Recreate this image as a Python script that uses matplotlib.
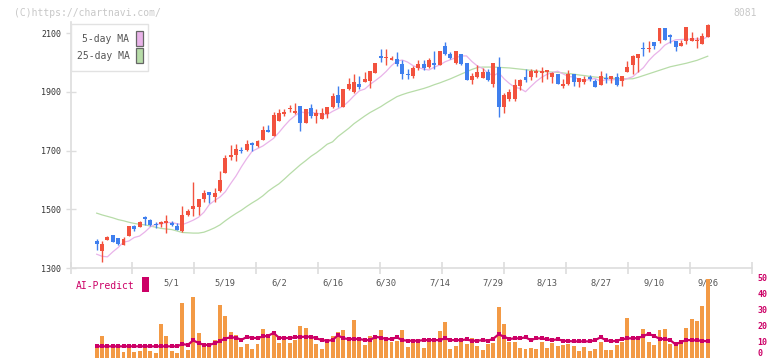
import matplotlib
matplotlib.use("Agg")
import matplotlib.pyplot as plt
from matplotlib.patches import Rectangle
import numpy as np

# ---------------- data ----------------
opens = [1393, 1359, 1396, 1413, 1402, 1380, 1410, 1443, 1441, 1473,
         1464, 1449, 1451, 1454, 1455, 1443, 1426, 1479, 1501, 1509,
         1536, 1559, 1541, 1564, 1625, 1679, 1685, 1703, 1702, 1725,
         1716, 1736, 1771, 1750, 1802, 1826, 1841, 1830, 1852, 1795,
         1845, 1819, 1809, 1825, 1848, 1890, 1850, 1909, 1899, 1926,
         1935, 1939, 1966, 2023, 2016, 2009, 2012, 1995, 1961, 1954,
         1981, 1994, 1984, 1999, 1992, 2057, 2028, 1998, 2030, 1998,
         1941, 1950, 1948, 1968, 1927, 1986, 1850, 1876, 1876, 1921,
         1951, 1952, 1965, 1966, 1968, 1952, 1961, 1921, 1926, 1961,
         1934, 1934, 1952, 1937, 1925, 1949, 1945, 1951, 1939, 1969,
         1992, 2015, 2049, 2046, 2069, 2075, 2117, 2094, 2074, 2058,
         2075, 2075, 2074, 2064, 2088]
highs = [1399, 1393, 1410, 1414, 1403, 1405, 1443, 1448, 1461, 1478,
         1467, 1458, 1461, 1481, 1460, 1455, 1512, 1500, 1593, 1535,
         1566, 1560, 1574, 1631, 1686, 1720, 1723, 1713, 1736, 1731,
         1736, 1784, 1788, 1833, 1842, 1842, 1856, 1861, 1853, 1843,
         1858, 1841, 1845, 1850, 1896, 1920, 1911, 1947, 1960, 1955,
         1967, 1973, 2000, 2047, 2047, 2024, 2037, 2009, 1980, 1990,
         2009, 2009, 2015, 2041, 2041, 2071, 2035, 2041, 2031, 1999,
         1966, 1992, 1981, 1977, 1999, 2020, 1896, 1909, 1944, 1946,
         1978, 1977, 1978, 1986, 1976, 1967, 1962, 1943, 1975, 1962,
         1949, 1954, 1957, 1944, 1972, 1965, 1956, 1964, 1956, 2006,
         2026, 2031, 2069, 2074, 2070, 2118, 2118, 2098, 2075, 2077,
         2121, 2103, 2089, 2100, 2132]
lows = [1362, 1322, 1396, 1387, 1379, 1380, 1409, 1427, 1440, 1446,
        1444, 1436, 1439, 1421, 1444, 1428, 1424, 1477, 1478, 1479,
        1526, 1521, 1526, 1558, 1624, 1668, 1666, 1693, 1700, 1699,
        1712, 1735, 1764, 1749, 1801, 1819, 1833, 1824, 1767, 1794,
        1810, 1795, 1808, 1810, 1847, 1848, 1849, 1907, 1896, 1909,
        1934, 1913, 1965, 2003, 1992, 2008, 1990, 1943, 1944, 1949,
        1975, 1975, 1981, 1978, 1991, 2027, 2012, 1997, 1993, 1940,
        1927, 1949, 1947, 1939, 1916, 1816, 1830, 1870, 1870, 1907,
        1933, 1941, 1952, 1935, 1944, 1930, 1926, 1915, 1925, 1921,
        1918, 1927, 1938, 1917, 1924, 1932, 1932, 1920, 1920, 1968,
        1961, 1969, 2024, 2037, 2045, 2068, 2076, 2066, 2041, 2057,
        2064, 2074, 2051, 2063, 2087]
closes = [1382, 1382, 1406, 1390, 1381, 1399, 1442, 1434, 1457, 1468,
          1446, 1445, 1458, 1460, 1448, 1430, 1481, 1495, 1512, 1534,
          1557, 1550, 1557, 1600, 1675, 1686, 1706, 1699, 1723, 1719,
          1734, 1771, 1765, 1822, 1828, 1833, 1847, 1835, 1795, 1842,
          1819, 1830, 1830, 1849, 1886, 1864, 1910, 1926, 1933, 1918,
          1944, 1972, 1999, 2017, 2019, 2016, 1996, 1960, 1958, 1983,
          1994, 1981, 2009, 1992, 2040, 2028, 2015, 2040, 1994, 1941,
          1955, 1968, 1968, 1941, 1998, 1850, 1890, 1900, 1924, 1941,
          1942, 1973, 1971, 1971, 1975, 1966, 1927, 1927, 1961, 1934,
          1948, 1944, 1943, 1918, 1955, 1943, 1955, 1924, 1955, 1984,
          2023, 2030, 2045, 2051, 2058, 2117, 2077, 2088, 2054, 2068,
          2120, 2084, 2077, 2091, 2128]

ma5 = [1347, 1340, 1338, 1355, 1370, 1388, 1392, 1404, 1409, 1423,
       1440, 1449, 1450, 1455, 1455, 1451, 1448, 1455, 1463, 1473,
       1490, 1516, 1530, 1542, 1560, 1588, 1614, 1645, 1673, 1698,
       1707, 1716, 1729, 1742, 1762, 1784, 1804, 1819, 1833, 1828,
       1830, 1828, 1824, 1823, 1834, 1843, 1852, 1868, 1887, 1904,
       1910, 1926, 1939, 1953, 1970, 1990, 2005, 2009, 2002, 1990,
       1983, 1978, 1975, 1985, 1992, 2003, 2010, 2017, 2023, 2023,
       2004, 1989, 1980, 1965, 1955, 1966, 1945, 1929, 1916, 1912,
       1901, 1919, 1936, 1950, 1960, 1966, 1971, 1962, 1953, 1951,
       1943, 1939, 1943, 1946, 1937, 1942, 1941, 1943, 1939, 1946,
       1952, 1968, 1983, 2007, 2026, 2041, 2060, 2070, 2078, 2079,
       2080, 2080, 2081, 2079, 2089]

ma25 = [1487, 1481, 1476, 1471, 1465, 1461, 1456, 1452, 1449, 1447,
        1443, 1439, 1435, 1433, 1431, 1426, 1421, 1420, 1419, 1419,
        1422, 1429, 1437, 1447, 1461, 1474, 1486, 1497, 1510, 1522,
        1533, 1546, 1562, 1575, 1587, 1603, 1620, 1636, 1652, 1666,
        1681, 1693, 1707, 1722, 1730, 1748, 1762, 1776, 1792, 1805,
        1818, 1830, 1840, 1850, 1862, 1873, 1884, 1891, 1897, 1902,
        1907, 1912, 1918, 1925, 1931, 1938, 1945, 1953, 1961, 1969,
        1977, 1983, 1985, 1985, 1985, 1984, 1983, 1982, 1980, 1978,
        1976, 1974, 1972, 1970, 1969, 1968, 1967, 1965, 1963, 1961,
        1958, 1956, 1953, 1951, 1949, 1948, 1947, 1946, 1945, 1945,
        1945, 1950, 1956, 1962, 1968, 1974, 1980, 1986, 1990, 1994,
        1998, 2003, 2008, 2015, 2022]

volume = [8.5, 13.5, 6.9, 6.9, 6.9, 3.5, 6.9, 3.5, 4.2, 6.9,
          4.2, 2.9, 21.0, 13.5, 4.2, 2.9, 34.2, 5.0, 37.9, 15.4,
          6.9, 8.5, 11.0, 32.9, 26.0, 16.0, 14.2, 6.9, 8.5, 5.6,
          8.5, 17.9, 13.1, 14.8, 9.2, 11.0, 9.2, 11.0, 19.8, 18.5,
          13.5, 8.5, 5.6, 11.0, 13.5, 16.0, 17.3, 11.0, 23.5, 11.0,
          7.9, 13.5, 13.5, 17.3, 11.0, 9.8, 10.4, 17.3, 6.9, 9.8,
          9.8, 6.0, 11.0, 12.3, 16.7, 22.3, 5.6, 7.3, 11.0, 8.5,
          12.3, 7.3, 4.8, 8.5, 9.2, 31.7, 21.0, 9.8, 9.8, 6.0,
          5.4, 6.0, 5.4, 9.8, 6.0, 9.2, 7.3, 7.9, 8.5, 7.3,
          4.2, 6.7, 4.2, 5.4, 9.8, 4.8, 4.8, 7.9, 9.8, 24.8,
          11.7, 13.5, 17.9, 9.8, 7.9, 17.3, 17.9, 8.5, 9.8, 8.5,
          18.5, 24.2, 22.9, 32.3, 49.0]

ai_predict = [7.1, 7.1, 7.1, 7.1, 7.1, 7.1, 7.1, 7.1, 7.1, 7.1,
              7.1, 7.1, 7.1, 7.1, 7.1, 7.1, 8.5, 8.0, 10.8, 9.2,
              8.0, 8.0, 9.0, 10.5, 12.0, 12.7, 12.5, 11.2, 12.9, 12.5,
              12.2, 13.3, 13.7, 15.5, 12.5, 12.3, 12.3, 12.7, 13.0, 13.1,
              13.1, 12.1, 11.0, 10.6, 11.0, 14.0, 12.1, 11.7, 11.7, 11.7,
              11.0, 11.0, 13.1, 12.5, 11.7, 11.7, 12.7, 11.0, 10.6, 10.6,
              10.6, 11.0, 11.0, 11.0, 11.0, 12.1, 11.0, 11.0, 11.0, 11.4,
              10.6, 10.6, 11.0, 10.6, 11.9, 14.6, 13.1, 11.7, 12.1, 12.1,
              12.7, 11.0, 12.1, 12.1, 11.5, 11.0, 11.5, 10.6, 10.4, 10.2,
              10.2, 10.2, 10.2, 11.0, 12.7, 11.0, 10.2, 10.6, 11.5, 12.1,
              12.1, 12.3, 13.5, 15.0, 13.5, 11.9, 11.5, 11.0, 8.3, 9.8,
              11.0, 11.0, 10.8, 10.6, 10.2]

date_labels = ['5/1', '5/19', '6/2', '6/16', '6/30', '7/14', '7/29',
               '8/13', '8/27', '9/10', '9/26']
date_label_idx = [14, 24, 34, 44, 54, 64, 74, 84, 94, 104, 114]
price_ticks = [1300, 1500, 1700, 1900, 2100]
volume_ticks = [0, 10, 20, 30, 40, 50]

# ---------------- styling ----------------
W, H = 772, 361
MONO = 'DejaVu Sans Mono'
RED = '#f2523e'
BLUE = '#3f7fee'
ORANGE = '#f39a45'
MAGENTA = '#cc0066'
PINK = '#e9b3e9'
GREEN = '#b7dca8'
GRID = '#dddddd'


def fr(x0, y0, x1, y1):
    return [x0 / W, 1 - y1 / H, (x1 - x0) / W, (y1 - y0) / H]


fig = plt.figure(figsize=(W / 100, H / 100), dpi=100)
fig.patch.set_facecolor('white')

n = len(closes)
idx = np.arange(n)
o = np.array(opens, float)
c = np.array(closes, float)
hi = np.array(highs, float)
lo = np.array(lows, float)

# x mapping: candle i at pixel 96.7 + 5.36*i ; axes spans 70.5 .. 752
px0, step = 96.7, 5.36
xl = ((70.5 - px0) / step, (752 - px0) / step)

ax = fig.add_axes(fr(70.5, 21.6, 752, 268))
ax.set_xlim(*xl)
ax.set_ylim(1300, 2140)

ax.plot(idx, ma25, color=GREEN, lw=0.9, zorder=2)
ax.plot(idx, ma5, color=PINK, lw=0.9, zorder=2)

up = c >= o
colors = np.where(up, RED, BLUE)
ax.vlines(idx, lo, hi, colors=colors, lw=1.0, zorder=3)
body_bottom = np.minimum(o, c)
body_h = np.maximum(np.abs(c - o), 3.0)
ax.bar(idx, body_h, bottom=body_bottom, width=0.74, color=colors,
       linewidth=0, zorder=4)

for s in ['top', 'right']:
    ax.spines[s].set_visible(False)
for s in ['left', 'bottom']:
    ax.spines[s].set_color(GRID)
    ax.spines[s].set_linewidth(1.2)

ax.set_yticks(price_ticks)
ax.set_yticklabels([str(t) for t in price_ticks], fontfamily=MONO,
                   fontsize=6, color='#333333')
ax.tick_params(axis='y', direction='inout', length=7, width=1,
               color=GRID, pad=3)

ax.set_xticks(date_label_idx)
ax.set_xticklabels(date_labels, fontfamily=MONO, fontsize=6.3,
                   color='#555555')
ax.tick_params(axis='x', which='major', length=0, pad=7.5)
ax.set_xticks(np.linspace(xl[0], xl[1], 12), minor=True)
ax.tick_params(axis='x', which='minor', direction='inout', length=8,
               width=1.2, color=GRID)

# ---------------- volume panel ----------------
vax = fig.add_axes(fr(70.5, 270, 752, 361))
vax.set_xlim(*xl)
vax.set_ylim((357.7 - 361) / 1.6, (357.7 - 270) / 1.6)
vax.patch.set_alpha(0)
for s in vax.spines.values():
    s.set_visible(False)
vax.bar(idx, volume, width=0.74, color=ORANGE, linewidth=0, zorder=2)
vax.plot(idx, ai_predict, color=MAGENTA, lw=1.6, marker='s',
         markersize=2.2, markeredgewidth=0, zorder=3)
vax.set_xticks([])
vax.yaxis.tick_right()
vax.set_yticks(volume_ticks)
vax.set_yticklabels([str(t) for t in volume_ticks], fontfamily=MONO,
                    fontsize=6, color=MAGENTA, fontweight='bold')
vax.tick_params(axis='y', length=0, pad=4)
for lab in vax.get_yticklabels():
    lab.set_verticalalignment('center_baseline')
vax.get_yticklabels()[0].set_verticalalignment('bottom')

# ---------------- annotations ----------------
fig.text(14 / W, 1 - 12.7 / H, '(C)https://chartnavi.com/', fontfamily=MONO,
         fontsize=7, color='#c8c8c8', va='center', ha='left')
fig.text(757 / W, 1 - 12.7 / H, '8081', fontfamily=MONO,
         fontsize=7, color='#c8c8c8', va='center', ha='right')

fig.text(75.7 / W, 1 - 286 / H, 'AI-Predict', fontfamily=MONO,
         fontsize=7, color=MAGENTA, va='center', ha='left')
fig.add_artist(Rectangle((142 / W, 1 - 292.3 / H), 6.7 / W, 15 / H,
                         transform=fig.transFigure, facecolor=MAGENTA,
                         edgecolor='none', zorder=6))

# legend box
fig.add_artist(Rectangle((70.5 / W, 1 - 71.3 / H), 77.8 / W, 47.3 / H,
                         transform=fig.transFigure, facecolor='white',
                         edgecolor='#e2e2e2', lw=1, zorder=6))
legend_items = [('5-day MA', PINK, 38.8), ('25-day MA', GREEN, 55.8)]
for label, col, yc in legend_items:
    fig.text(129.5 / W, 1 - yc / H, label, fontfamily=MONO, fontsize=7,
             color='#555555', va='center', ha='right', zorder=7)
    fig.add_artist(Rectangle((136.3 / W, 1 - (yc + 7.5) / H), 6.2 / W,
                             15 / H, transform=fig.transFigure,
                             facecolor=col, edgecolor='#666666', lw=0.9,
                             zorder=7))

fig.savefig('out.png', dpi=100, facecolor='white')
